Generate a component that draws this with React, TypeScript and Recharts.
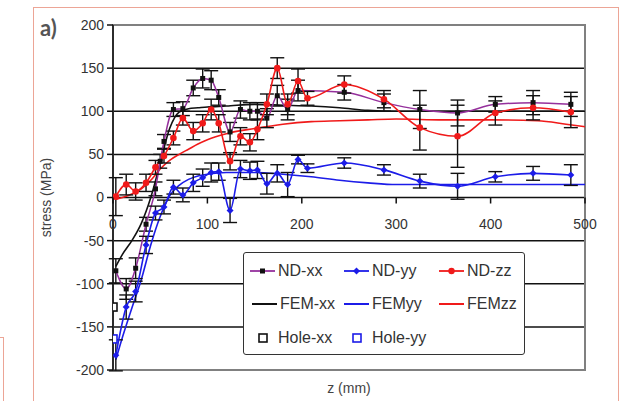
import React from 'react';
import { ComposedChart, Line, XAxis, YAxis, CartesianGrid, ReferenceArea, ErrorBar, Legend } from 'recharts';

// neutron diffraction scan positions along z (mm)
const ND_Z = [3, 14, 24, 35, 45, 50, 54, 64, 74, 85, 95, 104, 112, 124, 135, 145, 153, 163, 174, 185, 196, 206, 245, 287, 325, 365, 405, 445, 485];
const ND_XX = [-85, -106, -82, -31, 10, 42, 65, 102, 103, 127, 138, 136, 116, 76, 102, 100, 100, 92, 118, 102, 124, null, 122, 110, 102, 98, 108, 110, 108];
const ND_XX_ERR = [14, 12, 12, 8, 8, 8, 8, 8, 8, 9, 11, 11, 9, 11, 10, 10, 10, 11, 12, 12, 12, null, 9, 10, 22, 15, 9, 14, 14];
const ND_YY = [-183, -127, -109, -55, -18, null, -11, 12, 3, 17, 23, 29, 30, -15, 33, 31, 32, 16, 28, 15, 44, 34, 40, 32, 19, 13, 24, 28, 26];
const ND_YY_ERR = [18, 14, 12, 10, 8, null, 8, 8, 8, 10, 10, 11, 10, 14, 10, 10, 10, 12, 10, 14, 5, 5, 6, 6, 8, 15, 6, 8, 12];
const ND_ZZ = [1, 15, 7, 17, 35, null, 48, 69, 92, 77, 86, 102, 86, 42, 71, 64, 79, 108, 150, 108, 135, 115, 131, 114, 81, 71, 98, 104, 99];
const ND_ZZ_ERR = [22, 12, 10, 10, 8, null, 8, 8, 8, 10, 10, 12, 10, 10, 10, 10, 12, 12, 12, 12, 14, 8, 10, 10, 26, 36, 14, 14, 18];

// finite element predictions
const FEM_Z = [3, 10, 20, 30, 40, 50, 60, 70, 80, 90, 100, 120, 150, 180, 210, 240, 270, 300, 350, 400, 450, 480, 500];
const FEM_XX = [-80, -66, -50, -30, 0, 40, 80, 99, 103, 104, 105, 106, 108, 107, 106, 104, 101, 100, 100, 100, 100, 100, 100];
const FEM_YY = [-188, -162, -128, -95, -55, -22, 2, 14, 21, 25, 27, 29, 29, 27, 24, 20, 17, 15, 15, 15, 15, 15, 15];
const FEM_ZZ = [-2, 0, 4, 10, 20, 33, 43, 50, 56, 62, 67, 74, 80, 85, 88, 89, 90, 91, 90, 90, 89, 85, 82];

// hole drilling results at the surface
const HOLE_Z = [0];
const HOLE_XX = [-127];
const HOLE_YY = [-164];

const Y_TICKS = [-200, -150, -100, -50, 0, 50, 100, 150, 200];
const X_TICKS = [0, 100, 200, 300, 400, 500];

const W = 626;
const H = 401;
const MARGIN = { top: 25, right: 41, bottom: 0, left: 33 };
const Y_AXIS_W = 80;
const X_AXIS_H = 31;
const PLOT_H = H - MARGIN.top - MARGIN.bottom - X_AXIS_H;
const TICK_SIZE = 6;
const TICK_MARGIN = 2;

const PURPLE = '#95309c';
const BLUE = '#1c1ce8';
const RED = '#f01a1a';
const INK = '#111';
const FONT = '"Liberation Sans", Arial, Helvetica, sans-serif';

const build = (zs: number[], vs: (number | null)[], es?: (number | null)[]) =>
  zs
    .map((z, i) => ({ z, v: vs[i], e: es ? es[i] : undefined }))
    .filter((r) => r.v !== null);

const ndXX = build(ND_Z, ND_XX, ND_XX_ERR);
const ndYY = build(ND_Z, ND_YY, ND_YY_ERR);
const ndZZ = build(ND_Z, ND_ZZ, ND_ZZ_ERR);
const femXX = build(FEM_Z, FEM_XX);
const femYY = build(FEM_Z, FEM_YY);
const femZZ = build(FEM_Z, FEM_ZZ);
const holeXX = build(HOLE_Z, HOLE_XX);
const holeYY = build(HOLE_Z, HOLE_YY);

const SquareDot = (p: any) =>
  p.cx == null ? null : <rect key={p.index} x={p.cx - 2.5} y={p.cy - 2.5} width={5} height={5} fill={INK} />;
const DiamondDot = (p: any) =>
  p.cx == null ? null : (
    <path key={p.index} d={`M${p.cx},${p.cy - 3.5}L${p.cx + 3.5},${p.cy}L${p.cx},${p.cy + 3.5}L${p.cx - 3.5},${p.cy}Z`} fill={BLUE} />
  );
const RoundDot = (p: any) =>
  p.cx == null ? null : <circle key={p.index} cx={p.cx} cy={p.cy} r={3.3} fill={RED} />;
const openSquare = (color: string) => (p: any) =>
  p.cx == null ? null : (
    <rect key={p.index} x={p.cx - 4} y={p.cy - 4} width={8} height={8} fill="white" stroke={color} strokeWidth={1.6} />
  );

// x axis sits on the zero line, half way down the plot
const ZeroAxisTick = (props: any) => {
  const { x, y, payload } = props;
  const axisY = y - TICK_SIZE - TICK_MARGIN - PLOT_H / 2;
  return (
    <g>
      <line x1={x} x2={x} y1={axisY} y2={axisY + 6} stroke={INK} strokeWidth={1.5} />
      <text x={x} y={axisY + 31} textAnchor="middle" fontSize={14} fill="#333" fontFamily={FONT}>
        {payload.value}
      </text>
    </g>
  );
};

type Item = { label: string; kind: 'nd' | 'fem' | 'hole'; color: string; dot?: 'square' | 'diamond' | 'round'; left: number; top: number };

const LEGEND_ITEMS: Item[] = [
  { label: 'ND-xx', kind: 'nd', color: PURPLE, dot: 'square', left: 6, top: 18 },
  { label: 'ND-yy', kind: 'nd', color: BLUE, dot: 'diamond', left: 100, top: 18 },
  { label: 'ND-zz', kind: 'nd', color: RED, dot: 'round', left: 195, top: 18 },
  { label: 'FEM-xx', kind: 'fem', color: INK, left: 8, top: 51 },
  { label: 'FEMyy', kind: 'fem', color: BLUE, left: 100, top: 51 },
  { label: 'FEMzz', kind: 'fem', color: RED, left: 195, top: 51 },
  { label: 'Hole-xx', kind: 'hole', color: INK, left: 6, top: 85 },
  { label: 'Hole-yy', kind: 'hole', color: BLUE, left: 100, top: 85 },
];

const LegendMark = ({ it }: { it: Item }) => (
  <svg width={26} height={12} style={{ display: 'block' }}>
    {it.kind !== 'hole' && <line x1={0} x2={25} y1={6} y2={6} stroke={it.color} strokeWidth={it.kind === 'fem' ? 2 : 1.8} />}
    {it.dot === 'square' && <rect x={10} y={3.5} width={5} height={5} fill={INK} />}
    {it.dot === 'diamond' && <path d="M12.5,2.5L16,6L12.5,9.5L9,6Z" fill={BLUE} />}
    {it.dot === 'round' && <circle cx={12.5} cy={6} r={3.2} fill={RED} />}
    {it.kind === 'hole' && <rect x={9} y={2} width={8} height={8} fill="white" stroke={it.color} strokeWidth={1.6} />}
  </svg>
);

const LegendBox = () => (
  <div
    style={{
      position: 'relative',
      width: 280,
      height: 101,
      border: '1.5px solid #333',
      borderRadius: 3,
      background: 'white',
      fontFamily: FONT,
      fontSize: 16,
      color: '#333',
    }}
  >
    {LEGEND_ITEMS.map((it) => (
      <div
        key={it.label}
        style={{ position: 'absolute', left: it.left, top: it.top - 9, display: 'flex', alignItems: 'center', height: 18, whiteSpace: 'nowrap' }}
      >
        <LegendMark it={it} />
        <span style={{ marginLeft: 2 }}>{it.label}</span>
      </div>
    ))}
  </div>
);

export default function App() {
  return (
    <div style={{ position: 'absolute', left: 0, top: 0, width: W, height: H, overflow: 'hidden', background: 'white', fontFamily: FONT }}>
      <div style={{ position: 'absolute', left: 33, top: 7, width: 584, height: 430, border: '1.5px solid #eca596' }} />
      <div style={{ position: 'absolute', left: -12, top: 337, width: 14, height: 100, border: '1.5px solid #eca596' }} />
      <div style={{ position: 'absolute', left: 40, top: 14, fontFamily: 'Lato, "Open Sans", sans-serif', fontWeight: 700, fontSize: 22, color: '#555' }}>
        a)
      </div>
      <div style={{ position: 'absolute', left: 0, top: 0 }}>
        <ComposedChart width={W} height={H} margin={MARGIN}>
          <CartesianGrid vertical={false} stroke={INK} strokeWidth={1.5} />
          <ReferenceArea x1={0} x2={500} y1={-200} y2={200} fill="none" fillOpacity={0} stroke="#808080" strokeWidth={2} ifOverflow="visible" />
          <XAxis
            type="number"
            dataKey="z"
            domain={[0, 500]}
            ticks={X_TICKS}
            allowDataOverflow
            height={X_AXIS_H}
            axisLine={false}
            tickLine={false}
            tickSize={TICK_SIZE}
            tickMargin={TICK_MARGIN}
            tick={<ZeroAxisTick />}
            interval={0}
            label={{ value: 'z (mm)', position: 'insideBottom', offset: 8, fontSize: 14, fill: '#444', fontFamily: FONT }}
          />
          <YAxis
            type="number"
            domain={[-200, 200]}
            ticks={Y_TICKS}
            allowDataOverflow
            width={Y_AXIS_W}
            interval={0}
            axisLine={{ stroke: INK, strokeWidth: 1.5 }}
            tickLine={{ stroke: INK, strokeWidth: 1.5 }}
            tickSize={TICK_SIZE}
            tickMargin={3}
            tick={{ fontSize: 14, fill: '#333', fontFamily: FONT }}
            label={{ value: 'stress (MPa)', angle: -90, position: 'insideLeft', offset: 13, fontSize: 14, fill: '#444', fontFamily: FONT, style: { textAnchor: 'middle' } }}
          />
          <Legend
            layout="vertical"
            align="center"
            verticalAlign="middle"
            content={() => <LegendBox />}
            wrapperStyle={{ left: 243, top: 252, width: 284, height: 104 }}
          />

          <Line data={femXX} dataKey="v" type="monotone" stroke={INK} strokeWidth={1.6} dot={false} isAnimationActive={false} />
          <Line data={femYY} dataKey="v" type="monotone" stroke={BLUE} strokeWidth={1.6} dot={false} isAnimationActive={false} />
          <Line data={femZZ} dataKey="v" type="monotone" stroke={RED} strokeWidth={1.6} dot={false} isAnimationActive={false} />

          <Line data={ndXX} dataKey="v" type="monotone" stroke={PURPLE} strokeWidth={1.5} dot={SquareDot} isAnimationActive={false}>
            <ErrorBar dataKey="e" direction="y" width={7} stroke={INK} strokeWidth={1.4} />
          </Line>
          <Line data={ndYY} dataKey="v" type="monotone" stroke={BLUE} strokeWidth={1.6} dot={DiamondDot} isAnimationActive={false}>
            <ErrorBar dataKey="e" direction="y" width={7} stroke={INK} strokeWidth={1.4} />
          </Line>
          <Line data={ndZZ} dataKey="v" type="monotone" stroke={RED} strokeWidth={1.6} dot={RoundDot} isAnimationActive={false}>
            <ErrorBar dataKey="e" direction="y" width={7} stroke={INK} strokeWidth={1.4} />
          </Line>

          <Line data={holeXX} dataKey="v" stroke="none" dot={openSquare(INK)} isAnimationActive={false} />
          <Line data={holeYY} dataKey="v" stroke="none" dot={openSquare(BLUE)} isAnimationActive={false} />
        </ComposedChart>
      </div>
    </div>
  );
}
